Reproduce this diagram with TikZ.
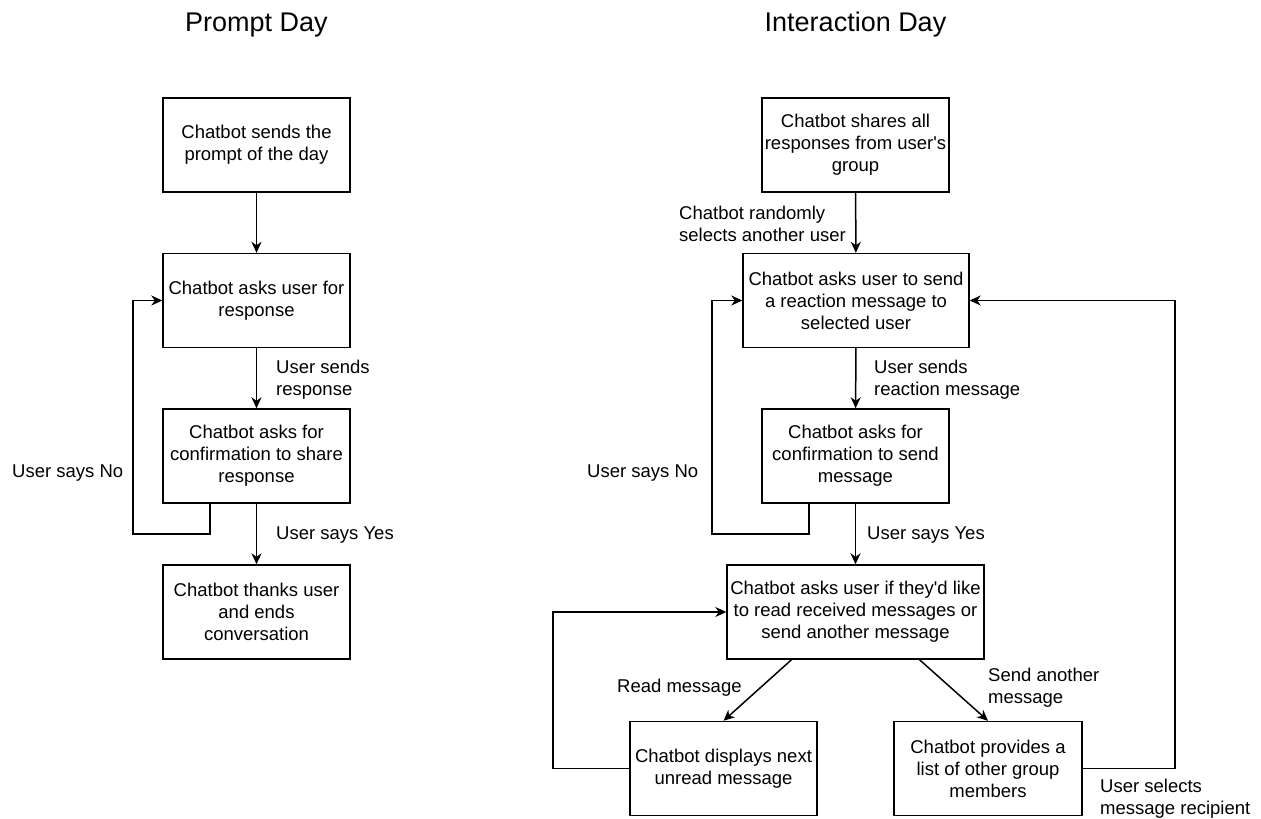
\documentclass[tikz,border=0pt]{standalone}
\usepackage{fontspec}
\setmainfont{Liberation Sans}[Ligatures=TeXOff]
\usetikzlibrary{arrows.meta}

\begin{document}
\begin{tikzpicture}[x=1pt,y=-1pt,
  box/.style={draw,line width=1.4pt,align=center,inner sep=1pt,
    minimum width=187pt,minimum height=94pt,font=\fontsize{18.5}{22}\selectfont},
  lbl/.style={anchor=west,align=left,inner sep=0pt,font=\fontsize{18.5}{22}\selectfont},
  ttl/.style={anchor=base,inner sep=0pt,font=\fontsize{27}{32}\selectfont},
  arr/.style={line width=1.5pt,-{Stealth[length=11pt,width=10pt,inset=3.5pt]}}]
  \useasboundingbox (0,0) rectangle (1261,819);
  % prompt day
  \node[ttl] (tprompt) at (256.5,31) {Prompt Day};
  \node[box] (send) at (256.5,145) {Chatbot sends the\\prompt of the day};
  \node[box] (ask) at (256.5,300.5) {Chatbot asks user for\\response};
  \node[box] (share) at (256.5,456) {Chatbot asks for\\confirmation to share\\response};
  \node[box] (thanks) at (256.5,612) {Chatbot thanks user\\and ends\\conversation};
  \coordinate (noshare) at (133,534);
  \draw[arr] (send) -- (ask);
  \draw[arr] (ask) -- (share);
  \draw[arr] (share) -- (thanks);
  \draw[arr] ([xshift=-46.5pt]share.south) |- (noshare) |- (ask.west);
  \node[lbl] (lsends) at (276,380) {User sends\\response};
  \node[lbl] (lno) at (12,473) {User says No};
  \node[lbl] (lyes) at (276,535) {User says Yes};
  % interaction day
  \node[ttl] (tinter) at (855.5,31) {Interaction Day};
  \node[box] (shares) at (855.5,145) {Chatbot shares all\\responses from user's\\group};
  \node[box,minimum width=226pt] (react) at (856,300.5) {Chatbot asks user to send\\a reaction message to\\selected user};
  \node[box] (confirm) at (855.5,456) {Chatbot asks for\\confirmation to send\\message};
  \node[box,minimum width=257pt] (choice) at (855.5,612) {Chatbot asks user if they'd like\\to read received messages or\\send another message};
  \node[box] (display) at (723.5,768.5) {Chatbot displays next\\unread message};
  \node[box,minimum width=188pt] (members) at (988,768.5) {Chatbot provides a\\list of other group\\members};
  \coordinate (nosend) at (712,534);
  \coordinate (readloop) at (553,700);
  \coordinate (pickloop) at (1175,500);
  \draw[arr] (shares) -- (react);
  \draw[arr] (react) -- (confirm);
  \draw[arr] (confirm) -- (choice);
  \draw[arr] ([xshift=-46.5pt]confirm.south) |- (nosend) |- (react.west);
  \draw[arr] ([xshift=-64pt]choice.south) -- (display.north);
  \draw[arr] ([xshift=64pt]choice.south) -- (members.north);
  \draw[arr] (display.west) -| (readloop) |- (choice.west);
  \draw[arr] (members.east) -| (pickloop) |- (react.east);
  \node[lbl] (lrandom) at (679,224) {Chatbot randomly\\selects another user};
  \node[lbl] (lreact) at (874,380) {User sends\\reaction message};
  \node[lbl] (lno2) at (587,473) {User says No};
  \node[lbl] (lyes2) at (867,535) {User says Yes};
  \node[lbl] (lread) at (617,688) {Read message};
  \node[lbl] (lanother) at (988,688) {Send another\\message};
  \node[lbl] (lpick) at (1100,799) {User selects\\message recipient};
\end{tikzpicture}
\end{document}
